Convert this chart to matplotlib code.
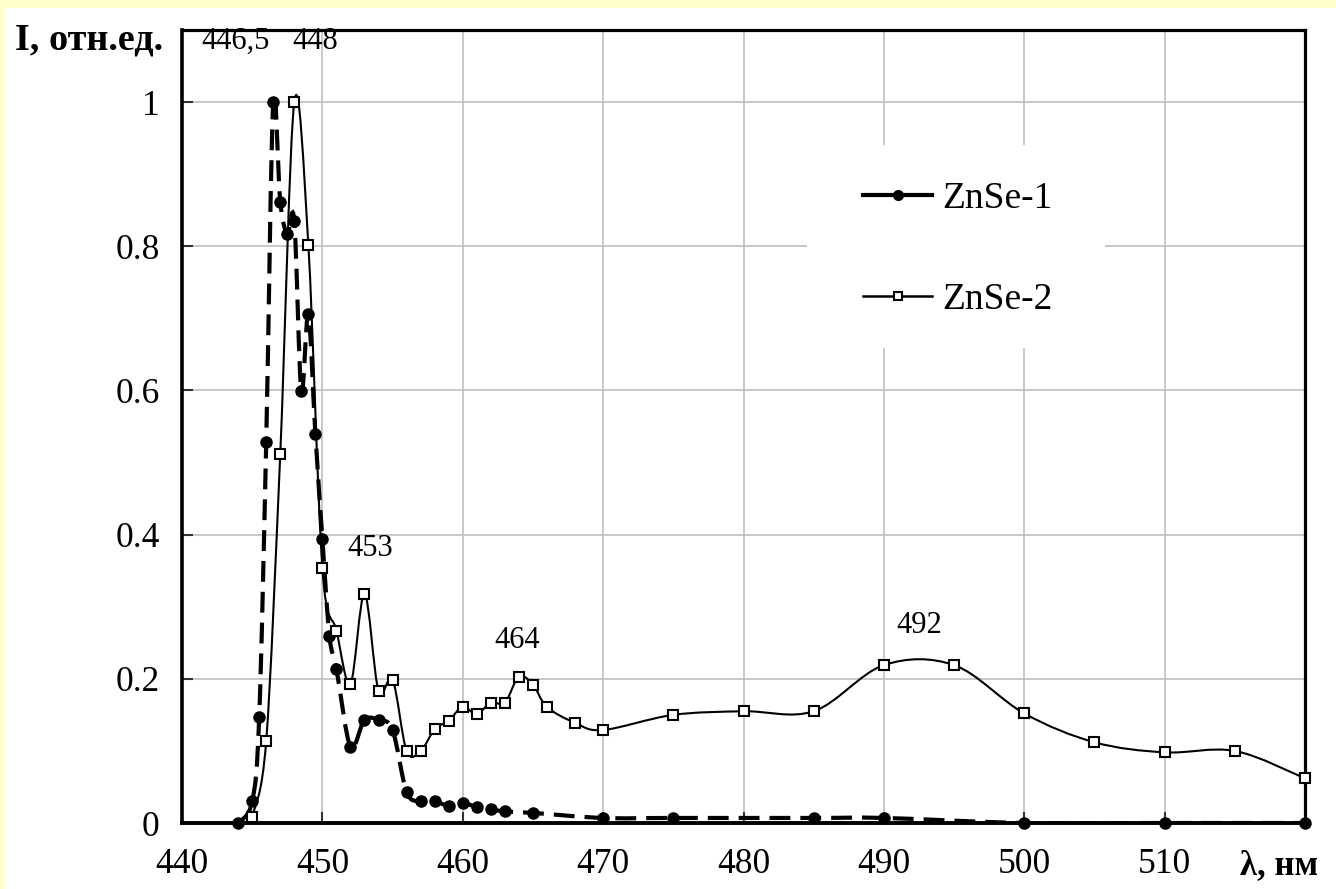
import matplotlib
matplotlib.use("Agg")
import matplotlib.pyplot as plt
import numpy as np
from matplotlib.path import Path
from matplotlib.patches import PathPatch, Rectangle
from matplotlib.lines import Line2D

plt.rcParams['font.family'] = ['Liberation Serif', 'DejaVu Serif']

# Luminescence spectra, wavelength in nm, intensity normalised
wl_1 = [444, 445, 445.5, 446, 446.5, 447, 447.5, 448, 448.5, 449, 449.5, 450, 450.5,
        451, 452, 453, 454, 455, 456, 457, 458, 459, 460, 461, 462, 463, 465,
        470, 475, 485, 490, 500, 510, 520]
int_1 = [0.0, 0.03, 0.147, 0.529, 1.0, 0.862, 0.817, 0.835, 0.599, 0.706, 0.54, 0.394, 0.26,
         0.214, 0.106, 0.143, 0.143, 0.129, 0.043, 0.03, 0.03, 0.024, 0.028, 0.022, 0.019, 0.016, 0.014,
         0.007, 0.007, 0.007, 0.007, 0.0, 0.0, 0.0]

wl_2 = [445, 446, 447, 448, 449, 450, 451, 452, 453, 454, 455, 456, 457, 458, 459, 460,
        461, 462, 463, 464, 465, 466, 468, 470, 475, 480, 485, 490, 495, 500, 505, 510, 515, 520]
int_2 = [0.008, 0.114, 0.512, 1.0, 0.802, 0.354, 0.267, 0.193, 0.318, 0.183, 0.199, 0.1, 0.1, 0.13, 0.142, 0.161,
         0.151, 0.167, 0.167, 0.203, 0.192, 0.161, 0.139, 0.129, 0.15, 0.155, 0.155, 0.219, 0.219, 0.152,
         0.112, 0.098, 0.1, 0.062]

peak_labels = ["446,5", "448", "453", "464", "492"]
peak_pos = [(443.8, 1.084), (449.5, 1.084), (453.4, 0.381), (463.9, 0.253), (492.5, 0.274)]

x_ticks = [440, 450, 460, 470, 480, 490, 500, 510]
y_ticks = [0, 0.2, 0.4, 0.6, 0.8, 1.0]
y_ticklabels = ["0", "0.2", "0.4", "0.6", "0.8", "1"]


def smooth_path(x, y):
    # cubic Bezier through every point (Catmull-Rom style tangents)
    pts = np.column_stack([x, y]).astype(float)
    n = len(pts)
    verts = [pts[0]]
    codes = [Path.MOVETO]
    for i in range(n - 1):
        p0 = pts[i - 1] if i > 0 else pts[i]
        p1 = pts[i]
        p2 = pts[i + 1]
        p3 = pts[i + 2] if i + 2 < n else pts[i + 1]
        verts += [p1 + (p2 - p0) / 6, p2 - (p3 - p1) / 6, p2]
        codes += [Path.CURVE4] * 3
    return Path(verts, codes)


fig = plt.figure(figsize=(13.36, 8.89), dpi=100)
fig.patches.append(Rectangle((0, 1 - 8 / 889), 1, 8 / 889, transform=fig.transFigure,
                             facecolor='#FFFFCC', edgecolor='none', zorder=0))
fig.patches.append(Rectangle((0, 0), 5 / 1336, 1, transform=fig.transFigure,
                             facecolor='#FFFFCC', edgecolor='none', zorder=0))

ax = fig.add_axes([182 / 1336, 66 / 889, 1123 / 1336, 793 / 889])
ax.set_xlim(440, 520)
ax.set_ylim(0, 1.1)

ax.set_xticks(x_ticks)
ax.set_yticks(y_ticks)
ax.set_yticklabels(y_ticklabels)
ax.grid(True, color='#BFBFBF', linewidth=1.2)
ax.set_axisbelow(True)
ax.tick_params(direction='in', length=8, width=1.5, labelsize=25.5, color='#333333')
ax.tick_params(axis='y', pad=16)
ax.tick_params(axis='x', pad=18)
for side in ['left', 'bottom', 'top', 'right']:
    ax.spines[side].set_linewidth(2.3)
ax.spines['left'].set_linewidth(2.6)
ax.spines['bottom'].set_linewidth(2.8)

# white area behind the legend
ax.add_patch(Rectangle(((807 - 182) / 1123, (823 - 348) / 793), 298 / 1123, 203 / 793,
                       transform=ax.transAxes, facecolor='white', edgecolor='none', zorder=1.8))

# ZnSe-1: dashed smooth line with filled circles
ax.add_patch(PathPatch(smooth_path(wl_1, int_1), facecolor='none', edgecolor='black',
                       linewidth=3.0, linestyle=(0, (5, 2.4)), capstyle='butt', zorder=3))
ax.plot(wl_1, int_1, linestyle='none', marker='o', markersize=8, color='black',
        clip_on=False, zorder=4)

# ZnSe-2: thin solid smooth line with open squares
ax.add_patch(PathPatch(smooth_path(wl_2, int_2), facecolor='none', edgecolor='black',
                       linewidth=1.5, zorder=5))
ax.plot(wl_2, int_2, linestyle='none', marker='s', markersize=6.5, markerfacecolor='white',
        markeredgecolor='black', markeredgewidth=1.5, clip_on=False, zorder=6)

for lab, (px, py) in zip(peak_labels, peak_pos):
    ax.text(px, py, lab, fontsize=22, ha='center', va='center', zorder=7)

handles = [
    Line2D([], [], color='black', linewidth=3, marker='o', markersize=7),
    Line2D([], [], color='black', linewidth=1.8, marker='s', markersize=6,
           markerfacecolor='white', markeredgewidth=1.5),
]
ax.legend(handles, ["ZnSe-1", "ZnSe-2"], loc='upper left',
          bbox_to_anchor=((863 - 182) / 1123, (823 - 182) / 793),
          frameon=False, fontsize=27, handlelength=1.85, handletextpad=0.25,
          labelspacing=1.76, borderpad=0, borderaxespad=0)

fig.text(15 / 1336, 1 - 40 / 889, "I, отн.ед.", fontsize=27.5, fontweight='bold',
         ha='left', va='center')
fig.text(1279 / 1336, 1 - 866 / 889, "λ, нм", fontsize=25, fontweight='bold',
         ha='center', va='center')

fig.savefig("out.png", dpi=100)
